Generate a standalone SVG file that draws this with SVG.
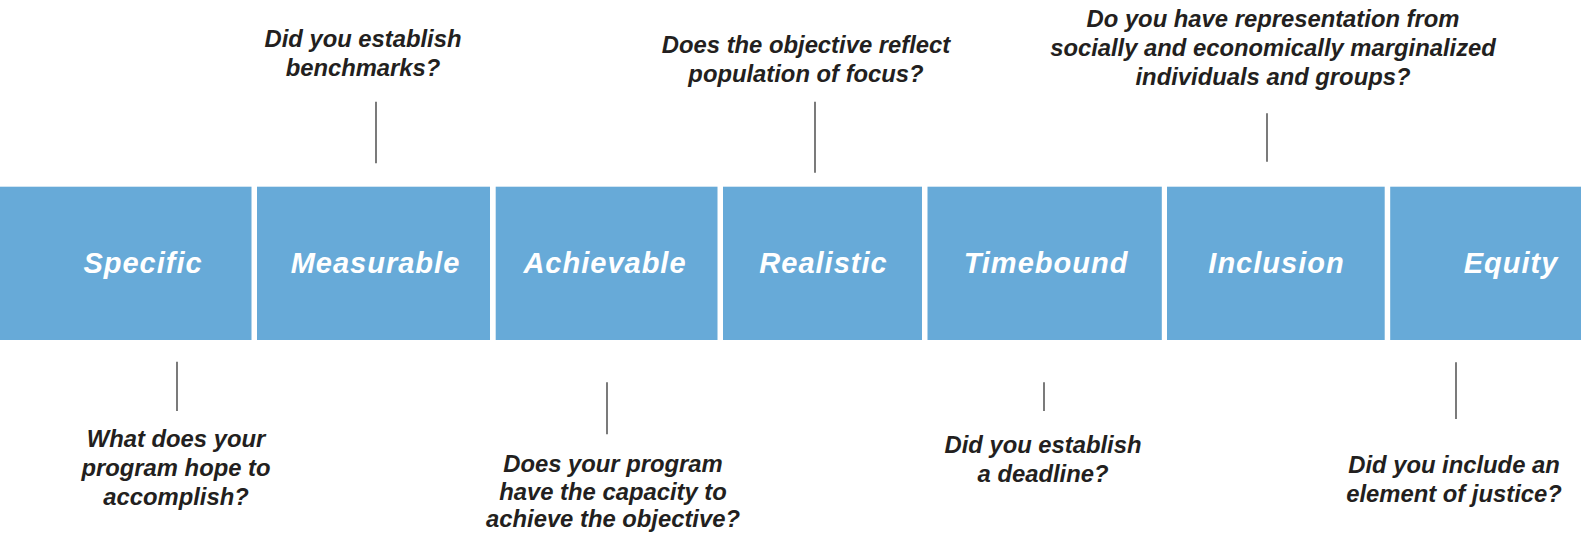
<svg xmlns="http://www.w3.org/2000/svg" width="1581" height="533" viewBox="0 0 1581 533">
<style>
.box{fill:#67aad8}
.lbl{font-family:"Liberation Sans",Arial,sans-serif;font-weight:bold;font-style:italic;font-size:29px;letter-spacing:1px;fill:#ffffff;text-anchor:middle}
.q{font-family:"Liberation Sans",Arial,sans-serif;font-weight:bold;font-style:italic;font-size:23.8px;fill:#231f20;text-anchor:middle}
.con{stroke:#333333;stroke-width:1.3;fill:none}
</style>
<rect width="1581" height="533" fill="#ffffff"/>
<g id="specific">
<rect class="box" x="0" y="186.7" width="251.5" height="153.3"/>
<text class="lbl" x="143" y="272.7">Specific</text>
</g>
<g id="measurable">
<rect class="box" x="257" y="186.7" width="233" height="153.3"/>
<text class="lbl" x="375.5" y="272.7">Measurable</text>
</g>
<g id="achievable">
<rect class="box" x="495.7" y="186.7" width="221.8" height="153.3"/>
<text class="lbl" x="605" y="272.7">Achievable</text>
</g>
<g id="realistic">
<rect class="box" x="723" y="186.7" width="199" height="153.3"/>
<text class="lbl" x="823.5" y="272.7">Realistic</text>
</g>
<g id="timebound">
<rect class="box" x="927.5" y="186.7" width="234.3" height="153.3"/>
<text class="lbl" x="1046" y="272.7">Timebound</text>
</g>
<g id="inclusion">
<rect class="box" x="1167" y="186.7" width="217.7" height="153.3"/>
<text class="lbl" x="1276.5" y="272.7">Inclusion</text>
</g>
<g id="equity">
<rect class="box" x="1390.2" y="186.7" width="190.8" height="153.3"/>
<text class="lbl" x="1511" y="272.7">Equity</text>
</g>
<g id="q-measurable">
<text class="q" x="363" y="46.5">Did you establish</text>
<text class="q" x="363" y="75.5">benchmarks?</text>
</g>
<g id="q-realistic">
<text class="q" x="806" y="53">Does the objective reflect</text>
<text class="q" x="806" y="82">population of focus?</text>
</g>
<g id="q-inclusion">
<text class="q" x="1273" y="27">Do you have representation from</text>
<text class="q" x="1273" y="56">socially and economically marginalized</text>
<text class="q" x="1273" y="85">individuals and groups?</text>
</g>
<g id="q-specific">
<text class="q" x="176" y="447">What does your</text>
<text class="q" x="176" y="475.8">program hope to</text>
<text class="q" x="176" y="504.6">accomplish?</text>
</g>
<g id="q-achievable">
<text class="q" x="613" y="471.5">Does your program</text>
<text class="q" x="613" y="499.5">have the capacity to</text>
<text class="q" x="613" y="527.3">achieve the objective?</text>
</g>
<g id="q-timebound">
<text class="q" x="1043" y="453">Did you establish</text>
<text class="q" x="1043" y="481.8">a deadline?</text>
</g>
<g id="q-equity">
<text class="q" x="1454" y="473">Did you include an</text>
<text class="q" x="1454" y="501.8">element of justice?</text>
</g>
<g id="connectors">
<line class="con" x1="376" y1="101.7" x2="376" y2="163.3"/>
<line class="con" x1="815" y1="101.7" x2="815" y2="172.7"/>
<line class="con" x1="1267" y1="113.3" x2="1267" y2="161.7"/>
<line class="con" x1="177" y1="361.7" x2="177" y2="411"/>
<line class="con" x1="607" y1="382.3" x2="607" y2="434.3"/>
<line class="con" x1="1044" y1="382.3" x2="1044" y2="411"/>
<line class="con" x1="1456" y1="362.3" x2="1456" y2="419"/>
</g>
</svg>
